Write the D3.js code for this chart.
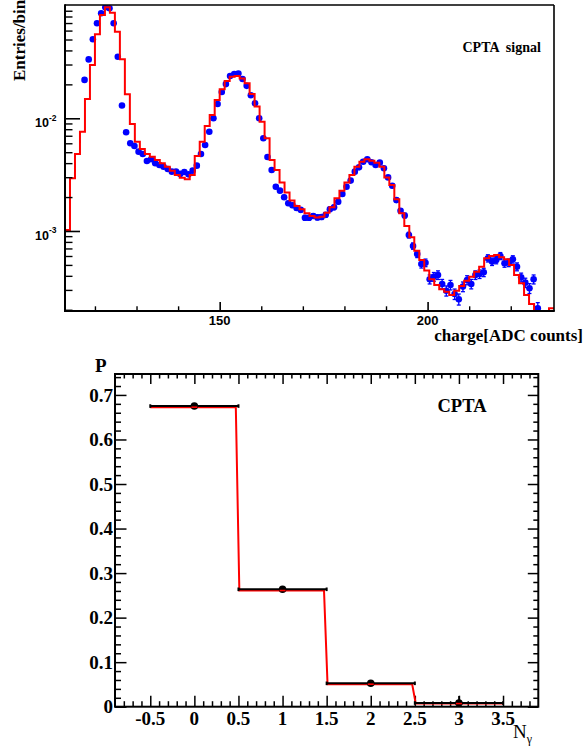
<!DOCTYPE html>
<html>
<head>
<meta charset="utf-8">
<script src="https://cdn.jsdelivr.net/npm/d3@7"></script>
<style>
  body { margin: 0; background: #fff; }
  svg { display: block; }
  text { font-family: "Liberation Serif", "Times New Roman", serif; fill: #000; }
  .sans { font-family: "Liberation Sans", Arial, sans-serif; }
</style>
</head>
<body>
<svg id="chart" width="586" height="749"></svg>
<script>
// ---------- charge spectrum (upper pad) ----------
// simulated spectrum: 1.2 ADC-count bins starting at 112.8
const modelLowEdge = 112.8;
const modelBinWidth = 1.2;
const modelValues = [
  1.02e-3, 2.94e-3, 4.82e-3, 7.60e-3, 0.0148, 0.0297, 0.0556, 0.0826, 0.0967, 0.0865,
  0.0586, 0.0334, 0.0163, 0.0089, 0.00619, 0.00534, 0.00482, 0.00456, 0.00426, 0.00399,
  0.00372, 0.00343, 0.00314, 0.00297, 0.00288, 0.00314, 0.00462, 0.00619, 0.00855, 0.0107,
  0.0145, 0.0181, 0.0214, 0.0234, 0.0237, 0.0226, 0.0205, 0.0164, 0.0127, 0.00933,
  0.00665, 0.00426, 0.00348, 0.00269, 0.00219, 0.00186, 0.00167, 0.00156, 0.00144, 0.00136,
  0.00132, 0.00134, 0.00145, 0.00162, 0.00195, 0.00228, 0.00269, 0.00314, 0.00372, 0.00412,
  0.00433, 0.00421, 0.00404, 0.00372, 0.00299, 0.00256, 0.00191, 0.00144, 0.00111, 8.79e-4,
  6.68e-4, 5.53e-4, 4.45e-4, 3.73e-4, 3.32e-4, 3.04e-4, 2.89e-4, 2.70e-4, 2.95e-4, 3.25e-4,
  3.62e-4, 3.93e-4, 4.35e-4, 4.82e-4, 5.73e-4, 6.00e-4, 6.12e-4, 5.85e-4, 5.61e-4, 4.99e-4,
  4.07e-4, 3.44e-4, 2.70e-4, 2.25e-4, 1.5e-4, 1.5e-4, 1.5e-4, 2.06e-4
];

// measured spectrum: 1 ADC-count bins, first bin centred at 117.5
const dataFirstCentre = 117.5;
const dataValues = [
  0.0219, 0.0333, 0.0502, 0.0697, 0.0855, 0.0966, 0.0946, 0.0697, 0.0352, 0.0130,
  0.00751, 0.00600, 0.00567, 0.00506, 0.00482, 0.00418, 0.00433, 0.00399, 0.00385, 0.00372,
  0.00355, 0.00336, 0.00337, 0.00321, 0.00334, 0.00318, 0.00343, 0.00380, 0.00482, 0.00580,
  0.00760, 0.0100, 0.0134, 0.0171, 0.0201, 0.0237, 0.0247, 0.0250, 0.0223, 0.0194,
  0.0160, 0.0136, 0.0100, 0.00665, 0.00454, 0.00348, 0.00247, 0.00228, 0.00199, 0.00176,
  0.00169, 0.00160, 0.00154, 0.00131, 0.00131, 0.00136, 0.00132, 0.00133, 0.00139, 0.00156,
  0.00162, 0.00182, 0.00213, 0.00247, 0.00280, 0.00336, 0.00367, 0.00412, 0.00433, 0.00407,
  0.00385, 0.00404, 0.00360, 0.00299, 0.00252, 0.00188, 0.00151, 0.00137, 9.20e-4, 7.36e-4,
  6.25e-4, 5.09e-4, 5.23e-4, 3.73e-4, 3.93e-4, 4.07e-4, 3.39e-4, 2.95e-4, 3.32e-4, 2.76e-4,
  2.48e-4, 3.21e-4, 3.67e-4, 3.39e-4, 4.07e-4, 4.15e-4, 4.30e-4, 5.73e-4, 5.35e-4, 5.53e-4,
  6.00e-4, 5.17e-4, 5.23e-4, 5.61e-4, 4.82e-4, 3.88e-4, 3.48e-4, 3.10e-4, 3.73e-4, 2.06e-4
];
// number of entries behind the normalised spectrum (for Poisson error bars)
const dataEntries = 3.2e5;

const chargeMajorTicks = [150, 200];
const chargeMinorTicks = [120, 130, 140, 160, 170, 180, 190, 210, 220];
const decadeTicks = [1e-3, 1e-2];
const decadeLabels = [["10", "-3"], ["10", "-2"]];

// ---------- photon multiplicity (lower pad) ----------
const nGamma = [0, 1, 2, 3];
const pMeasured = [0.675, 0.2636, 0.0525, 0.0083];
const pMeasuredErr = [0.004, 0.004, 0.004, 0.0155];
const pModel = [0.6725, 0.2608, 0.0505, 0.0070];
const nTickValues = [-0.5, 0, 0.5, 1, 1.5, 2, 2.5, 3, 3.5];
const nTickLabels = ["-0.5", "0", "0.5", "1", "1.5", "2", "2.5", "3", "3.5"];
const pTickValues = [0, 0.1, 0.2, 0.3, 0.4, 0.5, 0.6, 0.7];
const pTickLabels = ["0", "0.1", "0.2", "0.3", "0.4", "0.5", "0.6", "0.7"];

const svg = d3.select("#chart");
svg.append("rect").attr("width", 586).attr("height", 749).attr("fill", "#fff");

const noDomain = g => g.select(".domain").remove();

// ======================= upper pad =======================
const T = { l: 65, r: 554, t: 5, b: 311 };
const x1 = d3.scaleLinear().domain([112.8, 230.4]).range([T.l, T.r]);
const y1 = d3.scaleLog().domain([1.95e-4, 0.1012]).range([T.b, T.t]).clamp(true);

svg.append("clipPath").attr("id", "clipTop")
  .append("rect").attr("x", T.l).attr("y", T.t)
  .attr("width", T.r - T.l).attr("height", T.b - T.t + 1);

const plotTop = svg.append("g").attr("clip-path", "url(#clipTop)");

// measured points with Poisson errors
const points = dataValues.map((v, i) => ({
  c: dataFirstCentre + i,
  v: v,
  e: Math.sqrt(v * dataEntries) / dataEntries
}));

const errG = plotTop.append("g").attr("stroke", "#0000ff").attr("stroke-width", 1.3);
points.forEach(p => {
  const cx = x1(p.c), ylo = y1(Math.max(p.v - p.e, 1e-6)), yhi = y1(p.v + p.e);
  errG.append("line").attr("x1", cx).attr("x2", cx).attr("y1", ylo).attr("y2", yhi);
  errG.append("line").attr("x1", cx - 2).attr("x2", cx + 2).attr("y1", ylo).attr("y2", ylo);
  errG.append("line").attr("x1", cx - 2).attr("x2", cx + 2).attr("y1", yhi).attr("y2", yhi);
});
plotTop.append("g").selectAll("circle").data(points).join("circle")
  .attr("cx", d => x1(d.c)).attr("cy", d => y1(d.v)).attr("r", 3.3)
  .attr("fill", "#0000ff");

// simulated histogram outline
const stepPts = [];
modelValues.forEach((v, k) => {
  const lo = modelLowEdge + k * modelBinWidth;
  stepPts.push([lo, v], [lo + modelBinWidth, v]);
});
plotTop.append("path")
  .attr("d", d3.line().x(d => x1(d[0])).y(d => y1(d[1]))(stepPts))
  .attr("fill", "none").attr("stroke", "#ff0000").attr("stroke-width", 2)
  .attr("stroke-linejoin", "miter");

// y axis ticks (inward)
const logTicks = y1.ticks().filter(v => v >= y1.domain()[0] && v <= y1.domain()[1]);
const isDecade = v => Math.abs(Math.log10(v) - Math.round(Math.log10(v))) < 1e-6;
svg.append("g").attr("transform", `translate(${T.l},0)`)
  .call(d3.axisRight(y1).tickValues(decadeTicks).tickSizeInner(15).tickSizeOuter(0).tickFormat(""))
  .call(noDomain).selectAll("line").attr("stroke", "#000").attr("stroke-width", 1.6);
svg.append("g").attr("transform", `translate(${T.l},0)`)
  .call(d3.axisRight(y1).tickValues(logTicks.filter(v => !isDecade(v))).tickSizeInner(7.5).tickSizeOuter(0).tickFormat(""))
  .call(noDomain).selectAll("line").attr("stroke", "#000").attr("stroke-width", 1.4);

// x axis ticks (inward)
svg.append("g").attr("transform", `translate(0,${T.b})`)
  .call(d3.axisTop(x1).tickValues(chargeMajorTicks).tickSizeInner(9).tickSizeOuter(0).tickFormat(""))
  .call(noDomain).selectAll("line").attr("stroke", "#000").attr("stroke-width", 1.6);
svg.append("g").attr("transform", `translate(0,${T.b})`)
  .call(d3.axisTop(x1).tickValues(chargeMinorTicks).tickSizeInner(4.7).tickSizeOuter(0).tickFormat(""))
  .call(noDomain).selectAll("line").attr("stroke", "#000").attr("stroke-width", 1.4);

// frame
svg.append("line").attr("x1", T.l).attr("x2", T.r).attr("y1", T.t).attr("y2", T.t).attr("stroke", "#000").attr("stroke-width", 1.6);
svg.append("line").attr("x1", T.r).attr("x2", T.r).attr("y1", T.t).attr("y2", T.b).attr("stroke", "#000").attr("stroke-width", 1.6);
svg.append("line").attr("x1", T.l).attr("x2", T.l).attr("y1", T.t - 0.8).attr("y2", T.b + 1).attr("stroke", "#000").attr("stroke-width", 2);
svg.append("line").attr("x1", T.l - 1).attr("x2", T.r + 0.8).attr("y1", T.b).attr("y2", T.b).attr("stroke", "#000").attr("stroke-width", 2);

// decade labels
decadeTicks.forEach((v, i) => {
  const yy = y1(v);
  svg.append("text").attr("class", "sans").attr("x", 49).attr("y", yy + 9)
    .attr("text-anchor", "end").attr("font-size", 12.5).attr("font-weight", "bold")
    .text(decadeLabels[i][0]);
  svg.append("text").attr("class", "sans").attr("x", 49).attr("y", yy + 2.5)
    .attr("font-size", 8.5).attr("font-weight", "bold")
    .text(decadeLabels[i][1]);
});
chargeMajorTicks.forEach(v => {
  svg.append("text").attr("class", "sans").attr("x", x1(v)).attr("y", 325)
    .attr("text-anchor", "middle").attr("font-size", 13).attr("font-weight", "bold")
    .text(String(v));
});

svg.append("text").attr("x", 583).attr("y", 341).attr("text-anchor", "end")
  .attr("font-size", 17).attr("font-weight", "bold").text("charge[ADC counts]");
svg.append("text").attr("transform", "translate(25,81) rotate(-90)")
  .attr("font-size", 17).attr("font-weight", "bold").text("Entries/bin");
svg.append("text").attr("x", 462.5).attr("y", 51.7).attr("font-size", 14)
  .attr("font-weight", "bold").style("white-space", "pre").text("CPTA  signal");

// ======================= lower pad =======================
const B = { l: 115, r: 538.3, t: 374, b: 706.7 };
const x2 = d3.scaleLinear().domain([-0.9, 3.9]).range([B.l, B.r]);
const y2 = d3.scaleLinear().domain([0, 0.747]).range([B.b, B.t]);

const xMinor = d3.range(-8, 39).map(i => i / 10).filter(v => Math.abs(v * 2 - Math.round(v * 2)) > 1e-6);
const yMinor = d3.range(1, 38).map(i => i / 50).filter(v => Math.abs(v * 10 - Math.round(v * 10)) > 1e-6);

function tickSet(axisFn, scale, values, size, transform) {
  svg.append("g").attr("transform", transform)
    .call(axisFn(scale).tickValues(values).tickSizeInner(size).tickSizeOuter(0).tickFormat(""))
    .call(noDomain).selectAll("line").attr("stroke", "#000").attr("stroke-width", 1.5);
}
// bottom & top
tickSet(d3.axisTop, x2, nTickValues, 11, `translate(0,${B.b})`);
tickSet(d3.axisTop, x2, xMinor, 5.5, `translate(0,${B.b})`);
tickSet(d3.axisBottom, x2, nTickValues, 10, `translate(0,${B.t})`);
tickSet(d3.axisBottom, x2, xMinor, 4.5, `translate(0,${B.t})`);
// left & right
tickSet(d3.axisRight, y2, pTickValues, 11.5, `translate(${B.l},0)`);
tickSet(d3.axisRight, y2, yMinor, 6, `translate(${B.l},0)`);
tickSet(d3.axisLeft, y2, pTickValues, 10.5, `translate(${B.r},0)`);
tickSet(d3.axisLeft, y2, yMinor, 5, `translate(${B.r},0)`);

svg.append("rect").attr("x", B.l).attr("y", B.t).attr("width", B.r - B.l).attr("height", B.b - B.t)
  .attr("fill", "none").attr("stroke", "#000").attr("stroke-width", 2);

// tick labels
pTickValues.forEach((v, i) => {
  svg.append("text").attr("x", 113).attr("y", y2(v)).attr("dy", "0.35em")
    .attr("text-anchor", "end").attr("font-size", 19).attr("font-weight", "bold")
    .text(pTickLabels[i]);
});
nTickValues.forEach((v, i) => {
  svg.append("text").attr("x", x2(v)).attr("y", 725)
    .attr("text-anchor", "middle").attr("font-size", 19).attr("font-weight", "bold")
    .text(nTickLabels[i]);
});

// model probabilities: step outline with slightly slanted edges
const riseLead = 0.03, riseLag = 0.01;
const modelPts = [];
nGamma.forEach((n, i) => {
  const lo = n - 0.5 + (i > 0 ? riseLag : 0);
  const hi = n + 0.5 - (i < nGamma.length - 1 ? riseLead : 0);
  modelPts.push([lo, pModel[i]], [hi, pModel[i]]);
});
const modelPath = d3.line().x(d => x2(d[0])).y(d => y2(d[1]))(modelPts);
svg.append("path").attr("d", modelPath)
  .attr("fill", "none").attr("stroke", "#ff0000").attr("stroke-width", 2);

// measured probabilities: bin-width bars, markers
const barG = svg.append("g").attr("stroke", "#000");
nGamma.forEach((n, i) => {
  const yy = y2(pMeasured[i]);
  barG.append("line").attr("x1", x2(n - 0.5)).attr("x2", x2(n + 0.5))
    .attr("y1", yy).attr("y2", yy).attr("stroke-width", 2);
  [n - 0.5, n + 0.5].forEach(e => {
    barG.append("line").attr("x1", x2(e)).attr("x2", x2(e))
      .attr("y1", yy - 1.8).attr("y2", yy + 1.8).attr("stroke-width", 2);
  });
  barG.append("line").attr("x1", x2(n)).attr("x2", x2(n))
    .attr("y1", Math.min(B.b, y2(pMeasured[i] - pMeasuredErr[i])))
    .attr("y2", y2(pMeasured[i] + pMeasuredErr[i])).attr("stroke-width", 1.5);
});
svg.append("g").selectAll("circle").data(nGamma).join("circle")
  .attr("cx", d => x2(d)).attr("cy", (d, i) => y2(pMeasured[i])).attr("r", 3.8)
  .attr("fill", "#000");
// model line shows through the markers
svg.append("g").selectAll("line").data(nGamma).join("line")
  .attr("x1", d => x2(d) - 3).attr("x2", d => x2(d) + 3)
  .attr("y1", (d, i) => y2(pModel[i])).attr("y2", (d, i) => y2(pModel[i]))
  .attr("stroke", "#ff0000").attr("stroke-width", 1.6);

// titles
svg.append("text").attr("x", 95).attr("y", 371.5).attr("font-size", 19)
  .attr("font-weight", "bold").text("P");
svg.append("text").attr("x", 437.5).attr("y", 411.7).attr("font-size", 18.5)
  .attr("font-weight", "bold").text("CPTA");
const nLab = svg.append("text").attr("x", 513).attr("y", 738).attr("font-size", 19);
nLab.append("tspan").text("N");
nLab.append("tspan").attr("font-size", 12).attr("dy", 4.5).text("γ");
</script>
</body>
</html>
